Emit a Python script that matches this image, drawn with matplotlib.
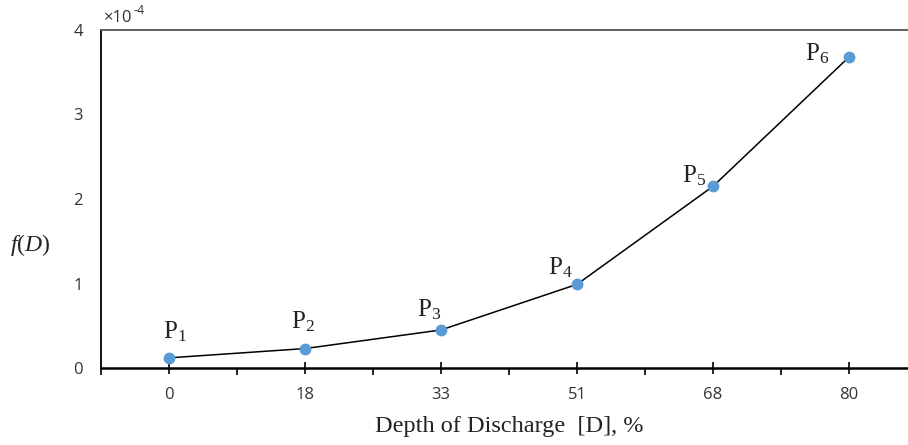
import matplotlib
matplotlib.use('Agg')
import matplotlib.pyplot as plt
import numpy as np

# data
dod = ['0', '18', '33', '51', '68', '80']
f_d = [0.12e-4, 0.23e-4, 0.45e-4, 0.99e-4, 2.15e-4, 3.68e-4]
point_names = ['P$_1$', 'P$_2$', 'P$_3$', 'P$_4$', 'P$_5$', 'P$_6$']

# label offsets (pixels) relative to each marker
label_offsets = [(6, 14), (-2, 15), (-12, 8), (-17, 4), (-19, -2), (-32, -9)]

plt.rcParams['mathtext.fontset'] = 'custom'
plt.rcParams['mathtext.rm'] = 'Liberation Serif'
plt.rcParams['mathtext.it'] = 'Liberation Serif:italic'

fig = plt.figure(figsize=(9.08, 4.45), dpi=100)
ax = fig.add_axes([101 / 908, 77 / 445, 816 / 908, 338 / 445])

x = np.arange(len(dod))
y = np.array(f_d) * 1e4
ax.plot(x, y, color='black', linewidth=1.1, zorder=2)
ax.plot(x, y, 'o', color='#5B9BD5', markersize=7.5, zorder=3)

for xi, yi, name, off in zip(x, y, point_names, label_offsets):
    ax.annotate(name, (xi, yi), xytext=off, textcoords='offset pixels',
                ha='center', va='bottom', fontsize=18, family='Liberation Serif',
                color='#222222')

ax.set_xlim(-0.5, len(dod) - 0.5)
ax.set_ylim(0, 4)
ax.set_yticks([0, 1, 2, 3, 4])
ax.tick_params(axis='y', length=0, pad=13, labelsize=12, labelcolor='#333333')
ax.set_xticks(x)
ax.set_xticklabels(dod)
ax.tick_params(axis='x', which='major', direction='inout', length=8, width=1.2,
               pad=10, labelsize=12, labelcolor='#333333')
ax.set_xticks(np.arange(-0.5, len(dod), 1.0), minor=True)
ax.tick_params(axis='x', which='minor', direction='out', length=5, width=1.2)
for lab in ax.get_xticklabels() + ax.get_yticklabels():
    lab.set_family('Open Sans')

ax.spines['right'].set_visible(False)
ax.spines['left'].set_linewidth(1.3)
ax.spines['bottom'].set_linewidth(1.8)
ax.spines['top'].set_linewidth(1.3)
ax.spines['top'].set_color('#555555')

# scale factor label, hyphen as in the original
base = ax.text(0.003, 1.012, '×10', transform=ax.transAxes, fontsize=12,
               family='Open Sans', ha='left', va='bottom', color='#333333')
ax.annotate('-4', xy=(1, 0.55), xycoords=base, xytext=(1, 0), textcoords='offset points',
            fontsize=9, family='Open Sans', ha='left', va='bottom', color='#333333')

ax.set_xlabel('Depth of Discharge  [D], %', fontsize=17.5, family='Liberation Serif',
              color='#222222', labelpad=9)
fig.text(10 / 908, 0.45, r'$f(D)$', fontsize=17, ha='left', va='center', color='#222222')

fig.savefig('out.png', dpi=100)
